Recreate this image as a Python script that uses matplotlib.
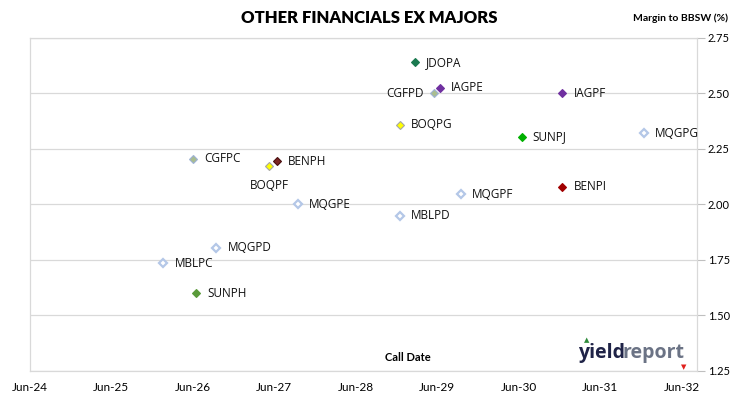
import numpy as np
import pandas as pd
import matplotlib
matplotlib.use("Agg")
import matplotlib.pyplot as plt
import matplotlib.dates as mdates

# securities, call dates and margins
names = ["JDOPA", "IAGPE", "CGFPD", "IAGPF", "BOQPG", "SUNPJ", "MQGPG", "CGFPC",
         "BENPH", "BOQPF", "BENPI", "MQGPF", "MQGPE", "MBLPD", "MQGPD", "MBLPC", "SUNPH"]
call_dates = ["2029-02-20", "2029-06-15", "2029-05-20", "2030-12-15", "2028-12-15",
              "2030-06-15", "2031-12-15", "2026-06-01", "2027-06-15", "2027-05-10",
              "2030-12-15", "2029-09-15", "2027-09-15", "2028-12-15", "2026-09-15",
              "2026-01-20", "2026-06-15"]
margins = [2.64, 2.525, 2.50, 2.50, 2.36, 2.305, 2.32, 2.205,
           2.195, 2.175, 2.08, 2.045, 2.00, 1.95, 1.805, 1.735, 1.60]

face = {"JDOPA": "#1b7a50", "IAGPE": "#7030a0", "IAGPF": "#7030a0",
        "CGFPD": "#a9bd8f", "CGFPC": "#a9bd8f",
        "BOQPG": "#ffff00", "BOQPF": "#ffff00",
        "SUNPJ": "#00b000", "SUNPH": "#5a9a3a",
        "BENPH": "#7b2424", "BENPI": "#a00000"}
edge = {"CGFPD": "#9fb3d6", "CGFPC": "#9fb3d6", "BOQPG": "#a6a6a6", "BOQPF": "#a6a6a6",
        "BENPH": "#4a1010"}
# label offsets in points (default: to the right)
offsets = {"CGFPD": (-8, 0, "right", "center"), "BOQPF": (0, -14, "center", "center")}

axis_font = ["Lato", "DejaVu Sans"]

df = pd.DataFrame({"name": names, "date": pd.to_datetime(call_dates), "margin": margins})

fig = plt.figure(figsize=(7.30, 3.99), dpi=100)
ax = fig.add_axes([0.041, 0.0702, 0.914, 0.8346])

for _, r in df.iterrows():
    n = r["name"]
    if n.startswith("MQG") or n.startswith("MBL"):
        fc, ec, lw = "white", "#b4c7e7", 1.6
    else:
        fc = face[n]
        ec = edge.get(n, fc)
        lw = 0.8
    ax.plot(r["date"], r["margin"], marker="D", ms=4.5, mfc=fc, mec=ec, mew=lw,
            linestyle="none", zorder=3)
    dx, dy, ha, va = offsets.get(n, (8, 0, "left", "center"))
    ax.annotate(n, (r["date"], r["margin"]), xytext=(dx, dy), textcoords="offset points",
                ha=ha, va=va, fontsize=8.5, family=["Open Sans", "DejaVu Sans"],
                color="#111111")

ax.set_xlim(pd.Timestamp("2024-06-01"), pd.Timestamp("2032-08-10"))
ax.set_ylim(1.25, 2.75)
ax.xaxis.set_major_locator(mdates.YearLocator(base=1, month=6, day=1))
ax.xaxis.set_major_formatter(mdates.DateFormatter("%b-%y"))
ax.set_yticks([1.25, 1.50, 1.75, 2.00, 2.25, 2.50, 2.75])
ax.yaxis.set_major_formatter(matplotlib.ticker.FormatStrFormatter("%.2f"))
ax.yaxis.tick_right()
ax.tick_params(axis="y", length=6, width=0.8, color="#bfbfbf", pad=1.5, labelsize=8)
ax.tick_params(axis="x", length=0, pad=8, labelsize=8.5)
for lab in ax.get_xticklabels() + ax.get_yticklabels():
    lab.set_family(axis_font)

ax.grid(axis="y", color="#d9d9d9", linewidth=0.9)
ax.set_axisbelow(True)
for s in ax.spines.values():
    s.set_color("#d9d9d9")
    s.set_linewidth(0.9)

fig.text(0.506, 0.955, "OTHER FINANCIALS EX MAJORS", ha="center", va="center",
         fontsize=12, fontweight="heavy", family=axis_font)
fig.text(0.997, 0.955, "Margin to BBSW (%)", ha="right", va="center",
         fontsize=7.5, fontweight="bold", family=axis_font)
ax.text(0.566, 0.025, "Call Date", transform=ax.transAxes, ha="center", va="bottom",
        fontsize=8, fontweight="bold", family=axis_font)

# yieldreport logo
fig.text(0.792, 0.115, "yield", ha="left", va="center", fontsize=14, fontweight="bold",
         color="#1f2347", family=["Open Sans", "DejaVu Sans"])
fig.text(0.853, 0.115, "report", ha="left", va="center", fontsize=14, fontweight="bold",
         color="#6b7385", family=["Open Sans", "DejaVu Sans"])
fig.text(0.803, 0.148, "\u25b2", ha="center", va="center", fontsize=5, color="#2e8b3a",
         family="DejaVu Sans")
fig.text(0.936, 0.08, "\u25bc", ha="center", va="center", fontsize=5, color="#e0201c",
         family="DejaVu Sans")

fig.savefig("out.png", dpi=100)
